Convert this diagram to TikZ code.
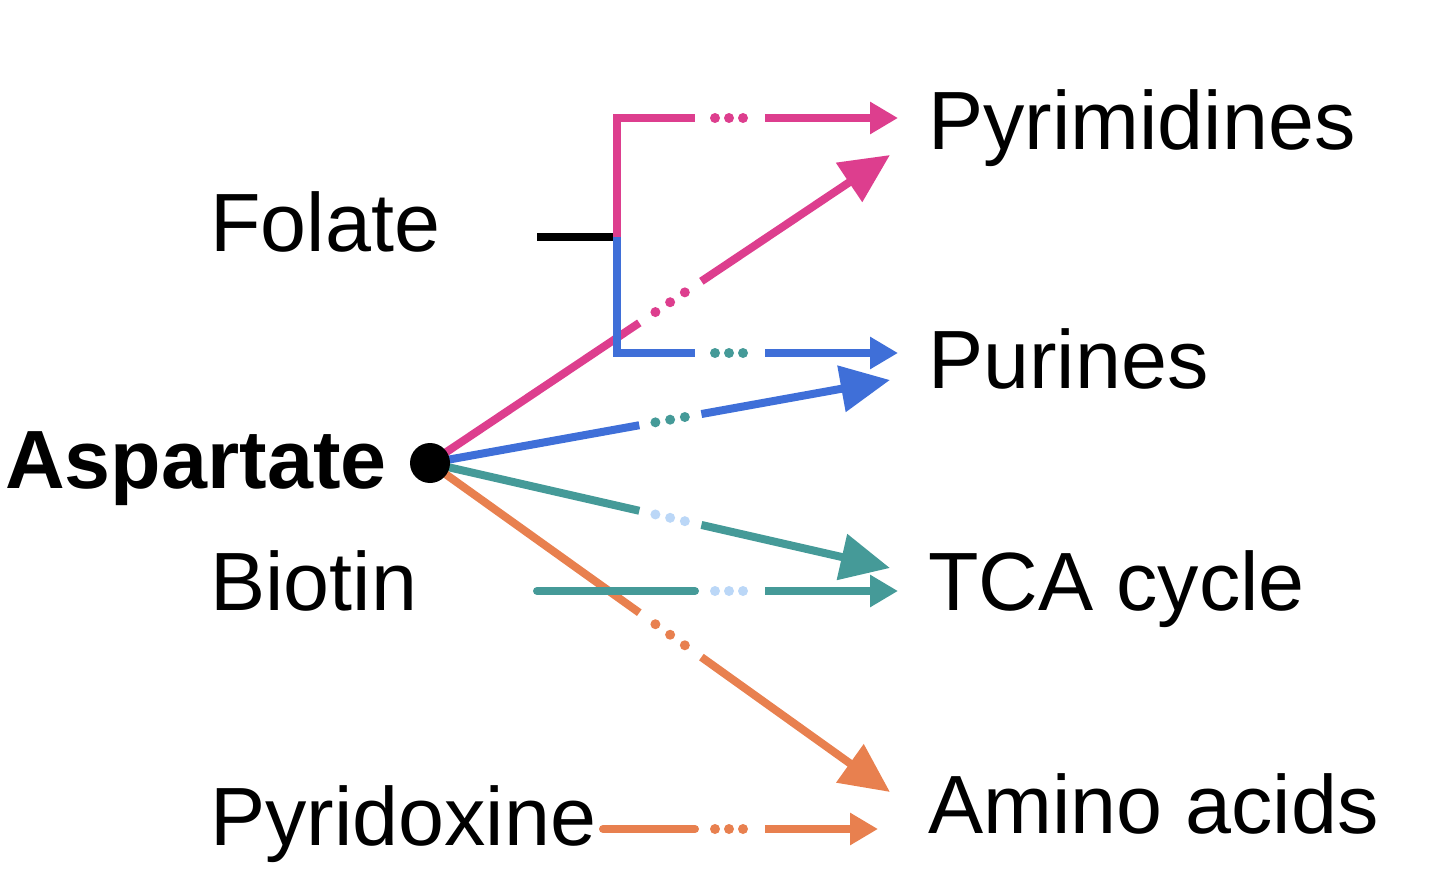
\documentclass[tikz,border=0pt]{standalone}
\usepackage{fontspec}
\setmainfont{Liberation Sans}
\usetikzlibrary{arrows.meta,calc}
\definecolor{pk}{HTML}{DD3E8E}
\definecolor{bl}{HTML}{3F6FD8}
\definecolor{tl}{HTML}{459A98}
\definecolor{or}{HTML}{E8804F}
\definecolor{lb}{HTML}{BBD7F7}
\begin{document}
\begin{tikzpicture}[x=0.75pt,y=-0.75pt,
  ln/.style={line width=6pt},
  big/.style={-{Triangle[length=37pt,width=34pt]}},
  sm/.style={-{Triangle[length=21pt,width=23pt]}},
  lab/.style={anchor=base west,inner sep=0pt,font=\fontsize{62}{70}\selectfont}]
\useasboundingbox (0,0) rectangle (1438,884);
% labels
\node[lab] (pyr) at (928,150) {Pyrimidines};
\node[lab] (pur) at (928,388) {Purines};
\node[lab] (tca) at (928,610) {TCA cycle};
\node[lab] (ami) at (928,833) {Amino acids};
\node[lab] (fol) at (210,252) {Folate};
\node[lab] (bio) at (210,610) {Biotin};
\node[lab] (pyx) at (210,845) {Pyridoxine};
\node[lab,font=\fontsize{62}{70}\selectfont\bfseries] (asp) at (5,488) {Aspartate};
\coordinate (h) at (430,463);
\coordinate (e1) at (890,155);
\coordinate (e2) at (890,380);
\coordinate (e3) at (890,568);
\coordinate (e4) at (890,792);
% diagonal lines
\foreach \e/\c/\d in {e1/pk/pk,e2/bl/tl,e3/tl/lb,e4/or/or}{
  \draw[ln,\c] (h) -- ($(h)!0.455!(\e)$);
  \draw[ln,\c,big] ($(h)!0.59!(\e)$) -- (\e);
  \foreach \f in {0.49,0.522,0.554}{\fill[\d] ($(h)!\f!(\e)$) circle (5);}
}
% bracket
\coordinate (fa) at (537,237);
\coordinate (fb) at (617,237);
\coordinate (pt) at (617,118);
\coordinate (pb) at (617,353);
\draw[ln,black] (fa) -- (fb);
\draw[ln,pk] (fb) -- (pt) -- (695,118);
\draw[ln,pk,sm] (765,118) -- (898,118);
\draw[ln,bl] (fb) -- (pb) -- (695,353);
\draw[ln,bl,sm] (765,353) -- (898,353);
\foreach \x in {715,729,743}{\fill[pk] (\x,118) circle (5); \fill[tl] (\x,353) circle (5);
  \fill[lb] (\x,591) circle (5); \fill[or] (\x,829) circle (5);}
\draw[ln,tl,line cap=round] (537,591) -- (695,591);
\draw[ln,tl,sm] (765,591) -- (898,591);
\draw[ln,or,line cap=round] (603,829) -- (695,829);
\draw[ln,or,sm] (765,829) -- (878,829);
\fill (h) circle (15pt);
\end{tikzpicture}
\end{document}
